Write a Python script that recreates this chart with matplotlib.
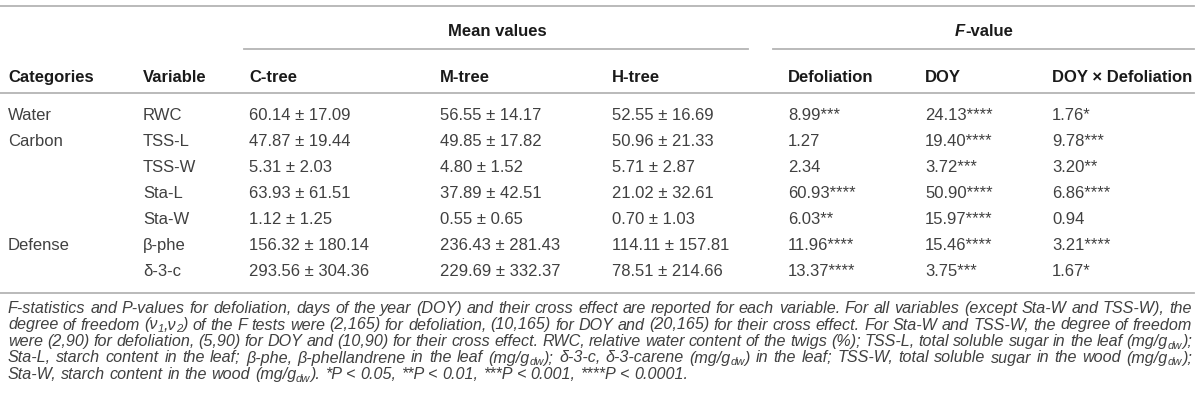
import re
import matplotlib
matplotlib.use("Agg")
import matplotlib.pyplot as plt

# ---------------------------------- table data ----------------------------------
categories = ["Water", "Carbon", "", "", "", "Defense", ""]
variables = ["RWC", "TSS-L", "TSS-W", "Sta-L", "Sta-W", "β-phe", "δ-3-c"]
c_mean = [60.14, 47.87, 5.31, 63.93, 1.12, 156.32, 293.56]
c_sd = [17.09, 19.44, 2.03, 61.51, 1.25, 180.14, 304.36]
m_mean = [56.55, 49.85, 4.80, 37.89, 0.55, 236.43, 229.69]
m_sd = [14.17, 17.82, 1.52, 42.51, 0.65, 281.43, 332.37]
h_mean = [52.55, 50.96, 5.71, 21.02, 0.70, 114.11, 78.51]
h_sd = [16.69, 21.33, 2.87, 32.61, 1.03, 157.81, 214.66]
f_defol = [8.99, 1.27, 2.34, 60.93, 6.03, 11.96, 13.37]
f_defol_star = ["***", "", "", "****", "**", "****", "****"]
f_doy = [24.13, 19.40, 3.72, 50.90, 15.97, 15.46, 3.75]
f_doy_star = ["****", "****", "***", "****", "****", "****", "***"]
f_cross = [1.76, 9.78, 3.20, 6.86, 0.94, 3.21, 1.67]
f_cross_star = ["*", "***", "**", "****", "", "****", "*"]

headers = ["Categories", "Variable", "C-tree", "M-tree", "H-tree",
           "Defoliation", "DOY", "DOY × Defoliation"]

# _{..} marks a subscript
caption = [
    "F-statistics and P-values for defoliation, days of the year (DOY) and their cross effect are reported for each variable. For all variables (except Sta-W and TSS-W), the",
    "degree of freedom (ν_{1},ν_{2}) of the F tests were (2,165) for defoliation, (10,165) for DOY and (20,165) for their cross effect. For Sta-W and TSS-W, the degree of freedom",
    "were (2,90) for defoliation, (5,90) for DOY and (10,90) for their cross effect. RWC, relative water content of the twigs (%); TSS-L, total soluble sugar in the leaf (mg/g_{dw});",
    "Sta-L, starch content in the leaf; β-phe, β-phellandrene in the leaf (mg/g_{dw}); δ-3-c, δ-3-carene (mg/g_{dw}) in the leaf; TSS-W, total soluble sugar in the wood (mg/g_{dw});",
    "Sta-W, starch content in the wood (mg/g_{dw}). *P < 0.05, **P < 0.01, ***P < 0.001, ****P < 0.0001.",
]

# ---------------------------------- layout ----------------------------------
plt.rcParams['font.family'] = ['Liberation Sans', 'DejaVu Sans']

W, H = 1200, 408
fig = plt.figure(figsize=(W / 100, H / 100), dpi=100)
ax = fig.add_axes([0, 0, 1, 1])
ax.set_xlim(0, W)
ax.set_ylim(H, 0)
ax.axis('off')

col_x = [8, 143, 249, 440, 612, 788, 925, 1052]
row_y = [114 + 26 * i for i in range(len(variables))]
txt_col = '#404040'
head_col = '#1a1a1a'
line_col = '#b4b4b4'
fs = 12

# rules
ax.plot([0, 1194], [6, 6], color=line_col, lw=1.3)
ax.plot([244, 748], [49, 49], color=line_col, lw=1.3)
ax.plot([773, 1194], [49, 49], color=line_col, lw=1.3)
ax.plot([0, 1194], [93, 93], color=line_col, lw=1.3)
ax.plot([0, 1194], [293, 293], color=line_col, lw=1.3)

# group headers
ax.text(497, 30, "Mean values", ha='center', va='center_baseline',
        fontsize=fs, fontweight='bold', color=head_col)
renderer = fig.canvas.get_renderer()
t1 = ax.text(0, 30, "F", va='center_baseline', fontsize=fs,
             fontweight='bold', fontstyle='italic', color=head_col)
t2 = ax.text(0, 30, "-value", va='center_baseline', fontsize=fs,
             fontweight='bold', color=head_col)
w1 = t1.get_window_extent(renderer).width
w2 = t2.get_window_extent(renderer).width
x0 = 984 - (w1 + w2) / 2
t1.set_x(x0)
t2.set_x(x0 + w1)

for x, h in zip(col_x, headers):
    ax.text(x, 76, h, va='center_baseline', fontsize=fs,
            fontweight='bold', color=head_col)

# body rows
for i, y in enumerate(row_y):
    cells = [categories[i], variables[i],
             f"{c_mean[i]:.2f} ± {c_sd[i]:.2f}",
             f"{m_mean[i]:.2f} ± {m_sd[i]:.2f}",
             f"{h_mean[i]:.2f} ± {h_sd[i]:.2f}",
             f"{f_defol[i]:.2f}" + f_defol_star[i],
             f"{f_doy[i]:.2f}" + f_doy_star[i],
             f"{f_cross[i]:.2f}" + f_cross_star[i]]
    for x, c in zip(col_x, cells):
        ax.text(x, y, c, va='center_baseline', fontsize=fs, color=txt_col)

# caption, justified like the journal layout
cap_fs = 11.6
cap_y = [307 + 16.5 * i for i in range(len(caption))]
left, right = 8, 1192


def pieces(word):
    # split a word into (text, is_subscript) parts
    out = []
    for j, p in enumerate(re.split(r"_\{([^}]*)\}", word)):
        if p:
            out.append((p, j % 2 == 1))
    return out


def seg_width(s, size):
    t = ax.text(0, 0, s, fontsize=size, fontstyle='italic')
    w_ = t.get_window_extent(renderer).width
    t.remove()
    return w_


def word_width(word, size):
    return sum(seg_width(s, size * (0.7 if sub else 1)) for s, sub in pieces(word))


def draw_word(word, x, y, size):
    for s, sub in pieces(word):
        sz = size * (0.7 if sub else 1)
        yy = y + (0.28 * size * 100 / 72 if sub else 0)
        ax.text(x, yy, s, va='center_baseline', fontsize=sz,
                fontstyle='italic', color=txt_col)
        x += seg_width(s, sz)


space_w = seg_width("a a", cap_fs) - seg_width("aa", cap_fs)

for k, (line, y) in enumerate(zip(caption, cap_y)):
    words = line.split(" ")
    size = cap_fs
    widths = [word_width(w_, size) for w_ in words]
    if k < len(caption) - 1:
        gap = (right - left - sum(widths)) / (len(words) - 1)
        while gap < 0.8 * space_w:
            size -= 0.1
            widths = [word_width(w_, size) for w_ in words]
            gap = (right - left - sum(widths)) / (len(words) - 1)
    else:
        gap = space_w
    x = left
    for w_, wd in zip(words, widths):
        draw_word(w_, x, y, size)
        x += wd + gap

fig.savefig("out.png", dpi=100)
